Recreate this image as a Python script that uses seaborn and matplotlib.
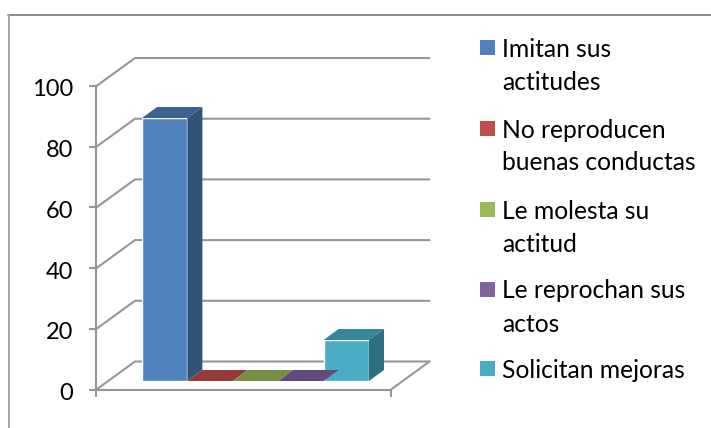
import matplotlib
matplotlib.use("Agg")
import matplotlib.pyplot as plt
from matplotlib.lines import Line2D
from matplotlib.patches import Polygon, Rectangle
from matplotlib.transforms import ScaledTranslation
import seaborn as sns

sns.set_style("white")
plt.rcParams['font.family'] = ['Lato', 'DejaVu Sans']

# datos
categorias = ["Imitan sus\nactitudes", "No reproducen\nbuenas conductas", "Le molesta su\nactitud",
              "Le reprochan sus\nactos", "Solicitan mejoras"]
valores = [86.5, 0, 0, 0, 13.5]
colores = ["#4f81bd", "#c0504d", "#9bbb59", "#8064a2", "#4bacc6"]
lados = ["#325379", "#7d3230", "#637a38", "#513f69", "#2f6f80"]
techos = ["#3b6191", "#943a38", "#778f42", "#624b7c", "#37859a"]
ticks = [0, 20, 40, 60, 80, 100]

W, H = 711, 428
GRIS = "#969696"


def caja(x0, y0, x1, y1):
    # caja en pixeles de la imagen (y hacia abajo)
    return [x0 / W, 1 - y1 / H, (x1 - x0) / W, (y1 - y0) / H]


fig = plt.figure(figsize=(W / 100, H / 100), dpi=100)
fig.patch.set_facecolor("white")

# marco exterior: solo arriba e izquierda, el resto queda cortado
fig.add_artist(Line2D([8 / W, 1], [1 - 15 / H, 1 - 15 / H], color="#8a8a8a", lw=1.4))
fig.add_artist(Line2D([9 / W, 9 / W], [0, 1 - 15 / H], color="#a6a6a6", lw=1.4))

# eje de valores con las paredes del fondo
ax_val = fig.add_axes(caja(96.5, 86, 391, 389.5))
ax_val.patch.set_alpha(0)
ax_val.set_xlim(96.5, 391)
ax_val.set_ylim(0, 100)
ax_val.set_yticks(ticks)
ax_val.set_xticks([96.5, 391])
ax_val.set_xticklabels([])
ax_val.tick_params(axis="both", direction="out", length=5, width=1.5, color=GRIS,
                   labelsize=17, labelcolor="black", pad=12, left=True, bottom=True)
# los numeros quedan 2 px por debajo de su marca
bajar = ScaledTranslation(0, -2 / 100, fig.dpi_scale_trans)
for lab in ax_val.get_yticklabels():
    lab.set_transform(lab.get_transform() + bajar)
sns.despine(ax=ax_val, top=True, right=True)
for s in ["left", "bottom"]:
    ax_val.spines[s].set_color(GRIS)
    ax_val.spines[s].set_linewidth(1.5)

prof_x = 38.5
prof_y = 28 * 100 / 303.5
for t in ticks:
    ax_val.plot([96.5, 96.5 + prof_x, 391 + prof_x], [t, t + prof_y, t + prof_y],
                color=GRIS, lw=1.5, clip_on=False, solid_joinstyle="miter")
ax_val.plot([391, 391 + prof_x], [0, prof_y], color=GRIS, lw=1.5, clip_on=False)

# barras: la cara frontal la dibuja seaborn
ax = fig.add_axes(caja(142, 77, 369, 381))
ax.patch.set_alpha(0)
sns.barplot(x=categorias, y=valores, hue=categorias, palette=colores, width=1.0,
            dodge=False, legend=False, saturation=1, ax=ax)
ax.set_xlim(-0.5, 4.5)
ax.set_ylim(0, 100)
ax.axis("off")

# caras lateral y superior
dx = 15 / (227 / 5)
dy = 11 * 100 / 304
for i, v in enumerate(valores):
    x0, x1 = i - 0.5, i + 0.5
    ax.add_patch(Polygon([(x0, v), (x1, v), (x1 + dx, v + dy), (x0 + dx, v + dy)],
                         facecolor=techos[i], edgecolor="none", clip_on=False))
    if v > 0:
        ax.add_patch(Polygon([(x1, 0), (x1 + dx, dy), (x1 + dx, v + dy), (x1, v)],
                             facecolor=lados[i], edgecolor="none", clip_on=False))

# leyenda a mano: el cuadro va alineado con la primera linea
ax_ley = fig.add_axes([0, 0, 1, 1])
ax_ley.patch.set_alpha(0)
ax_ley.set_xlim(0, W)
ax_ley.set_ylim(H, 0)
ax_ley.axis("off")
filas_y = [48, 129, 210, 290, 369]
for nombre, color, y in zip(categorias, colores, filas_y):
    ax_ley.add_patch(Rectangle((480, y - 8), 15, 15, facecolor=color, edgecolor="none"))
    for j, linea in enumerate(nombre.split("\n")):
        ax_ley.text(502, y + 1 + j * 33, linea, fontsize=17.7, va="center", ha="left", color="black")

fig.savefig("out.png", dpi=100)
